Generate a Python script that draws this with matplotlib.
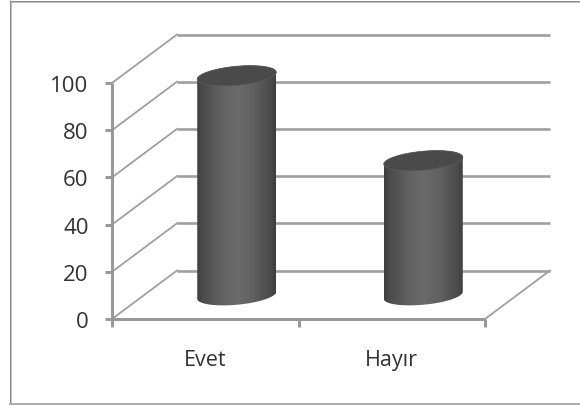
import numpy as np
import matplotlib
matplotlib.use('Agg')
import matplotlib.pyplot as plt
from matplotlib.lines import Line2D
from matplotlib.patches import Polygon

categories = ['Evet', 'Hayır']
values = [93, 57]
y_ticks = [0, 20, 40, 60, 80, 100]

W, H = 580, 406
# pixel layout of the front plane
x0_px, x_step_px = 112, 186.5
y0_px, y_scale_px = 320, 2.36
depth_x = 65 / x_step_px
depth_y = 48.5 / y_scale_px
bar_halfwidth = 39.5 / x_step_px
ell_b = 9.5 / y_scale_px
ell_tilt = 3.5 / y_scale_px

grid_col = '#9f9f9f'
axis_col = '#979797'
text_col = '#333333'
plt.rcParams['font.family'] = ['Open Sans', 'DejaVu Sans']


def frame_line(x1, y1, x2, y2, color, width):
    # outer frame, given in pixels from the top left
    fig.add_artist(Line2D([x1 / W, x2 / W], [1 - y1 / H, 1 - y2 / H], transform=fig.transFigure,
                          color=color, lw=width * 0.72, solid_capstyle='butt'))


fig = plt.figure(figsize=(W / 100, H / 100), dpi=100)
ax = fig.add_axes([0, 0, 1, 1])
ax.axis('off')

frame_line(11, 3, 580, 3, '#c0c0c0', 2)
frame_line(11, 3, 11, 404, '#c0c0c0', 2)
frame_line(9.5, 1.5, 580, 1.5, '#8a8a8a', 1)
frame_line(9.5, 1, 9.5, 405, '#8a8a8a', 1)
frame_line(9, 404.5, 580, 404.5, '#adadad', 2)

n = len(categories)

# back wall gridlines and the side wall diagonals
for v in y_ticks:
    ax.plot([depth_x, n + depth_x], [v + depth_y, v + depth_y], color=grid_col, lw=1.9, solid_capstyle='butt')
    ax.plot([0, depth_x], [v, v + depth_y], color=grid_col, lw=1.3)
ax.plot([n, n + depth_x], [0, depth_y], color=grid_col, lw=1.3)

# front axes
ax.plot([0, 0], [0, 100], color=axis_col, lw=2.1, solid_capstyle='butt')
ax.plot([0, n], [0, 0], color=axis_col, lw=2.1, solid_capstyle='butt')
for v in y_ticks:
    ax.plot([-7 / x_step_px, 0], [v, v], color=axis_col, lw=2.1, solid_capstyle='butt')
    # tick labels sit a little below their tick
    ax.text(-23.5 / x_step_px, v - 2.5 / y_scale_px, str(v), ha='right', va='center', fontsize=16, color=text_col)
for i in range(n + 1):
    ax.plot([i, i], [0, -8 / y_scale_px], color=axis_col, lw=2.1, solid_capstyle='butt')

t = np.linspace(0, 2 * np.pi, 121)
shade = np.interp(np.linspace(0, 1, 160), [0, 0.06, 0.3, 0.5, 0.7, 0.94, 1],
                  [0.24, 0.29, 0.38, 0.42, 0.38, 0.29, 0.24])

for i, (cat, val) in enumerate(zip(categories, values)):
    cx = i + 0.5 + depth_x / 2 - 1 / x_step_px
    base = depth_y / 2 - 0.5 / y_scale_px
    ex = bar_halfwidth * np.cos(t)
    ey = ell_b * np.sin(t) + ell_tilt * np.cos(t)

    # cylinder body: lower half of base ellipse, upper half of top ellipse
    low = t[60:121]
    up = t[0:61]
    xs = np.r_[cx + bar_halfwidth * np.cos(low), cx + bar_halfwidth * np.cos(up)]
    ys = np.r_[base + ell_b * np.sin(low) + ell_tilt * np.cos(low),
               base + val + ell_b * np.sin(up) + ell_tilt * np.cos(up)]
    body = Polygon(np.c_[xs, ys], closed=True, fc='none', ec='none', zorder=3)
    ax.add_patch(body)
    im = ax.imshow(shade[None, :], cmap='gray', vmin=0, vmax=1, aspect='auto', zorder=3,
                   extent=[cx - bar_halfwidth, cx + bar_halfwidth, base - 20, base + val + 20])
    im.set_clip_path(body)

    # top cap
    ax.add_patch(Polygon(np.c_[cx + ex, base + val + ey], closed=True, fc='#4a4a4a', ec='#5a5a5a',
                         lw=0.6, zorder=4))

    ax.text(i + 0.5, -(361 - y0_px) / y_scale_px, cat, ha='center', va='center', fontsize=15.5, color=text_col)

# imshow resets the limits
ax.set_xlim(-x0_px / x_step_px, (W - x0_px) / x_step_px)
ax.set_ylim(-(H - y0_px) / y_scale_px, y0_px / y_scale_px)

fig.savefig('out.png', dpi=100)
